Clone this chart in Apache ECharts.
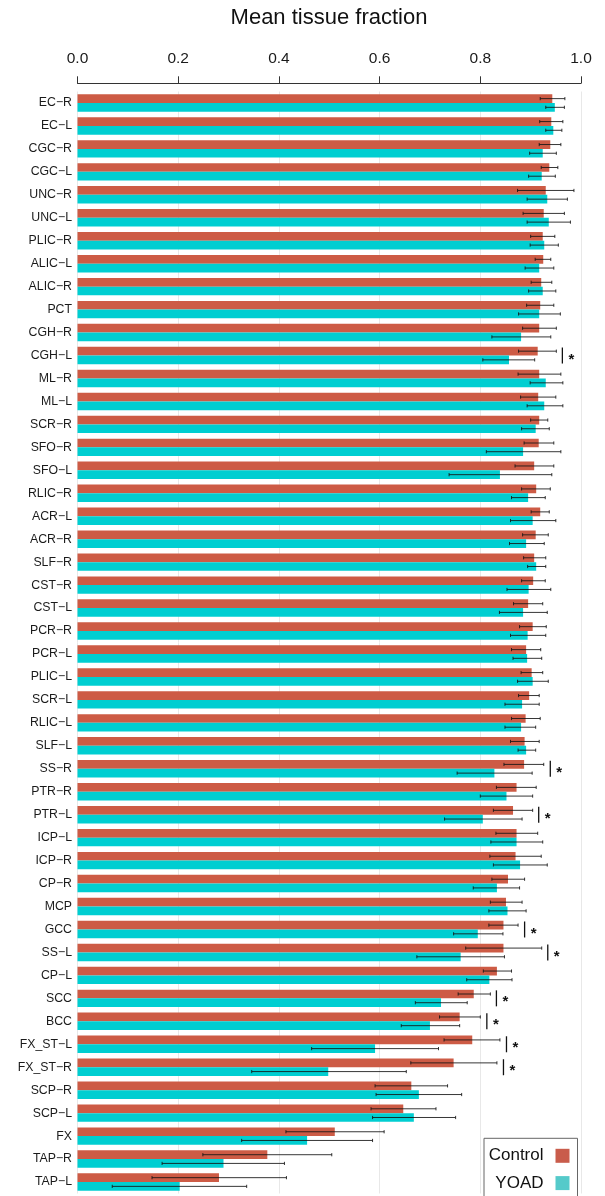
<!DOCTYPE html>
<html><head><meta charset="utf-8">
<script src="https://cdn.jsdelivr.net/npm/echarts@6/dist/echarts.min.js"></script>
<style>html,body{margin:0;padding:0;background:#fff}#c{width:605px;height:1196px}</style>
</head><body><div id="c"></div>
<script>
const categories = ['EC−R','EC−L','CGC−R','CGC−L','UNC−R','UNC−L','PLIC−R','ALIC−L','ALIC−R','PCT','CGH−R','CGH−L','ML−R','ML−L','SCR−R','SFO−R','SFO−L','RLIC−R','ACR−L','ACR−R','SLF−R','CST−R','CST−L','PCR−R','PCR−L','PLIC−L','SCR−L','RLIC−L','SLF−L','SS−R','PTR−R','PTR−L','ICP−L','ICP−R','CP−R','MCP','GCC','SS−L','CP−L','SCC','BCC','FX_ST−L','FX_ST−R','SCP−R','SCP−L','FX','TAP−R','TAP−L'];
const controlMean = [0.943,0.941,0.939,0.937,0.930,0.926,0.924,0.925,0.921,0.919,0.917,0.914,0.917,0.915,0.917,0.916,0.907,0.911,0.919,0.910,0.907,0.905,0.895,0.904,0.891,0.902,0.897,0.890,0.888,0.887,0.872,0.865,0.872,0.870,0.855,0.851,0.846,0.846,0.833,0.787,0.759,0.784,0.747,0.663,0.647,0.511,0.377,0.281];
const controlLo = [0.919,0.918,0.917,0.921,0.874,0.885,0.900,0.909,0.901,0.892,0.884,0.876,0.875,0.880,0.900,0.887,0.869,0.882,0.901,0.884,0.886,0.882,0.866,0.878,0.862,0.881,0.876,0.862,0.860,0.847,0.832,0.826,0.831,0.819,0.823,0.820,0.817,0.771,0.806,0.756,0.719,0.728,0.662,0.591,0.583,0.414,0.249,0.148];
const controlHi = [0.968,0.964,0.960,0.954,0.986,0.967,0.948,0.940,0.942,0.946,0.951,0.951,0.960,0.950,0.934,0.946,0.946,0.939,0.937,0.935,0.930,0.929,0.924,0.931,0.920,0.924,0.917,0.919,0.917,0.926,0.911,0.904,0.914,0.921,0.888,0.883,0.875,0.922,0.862,0.820,0.800,0.839,0.833,0.735,0.712,0.609,0.505,0.415];
const yoadMean = [0.948,0.945,0.924,0.922,0.933,0.936,0.927,0.917,0.924,0.917,0.881,0.857,0.930,0.927,0.910,0.885,0.839,0.895,0.904,0.891,0.911,0.896,0.885,0.894,0.893,0.904,0.883,0.881,0.891,0.828,0.852,0.805,0.872,0.879,0.833,0.854,0.795,0.761,0.818,0.722,0.700,0.591,0.498,0.678,0.668,0.456,0.290,0.203];
const yoadLo = [0.930,0.930,0.898,0.896,0.893,0.893,0.899,0.889,0.896,0.876,0.823,0.805,0.899,0.893,0.882,0.812,0.738,0.862,0.860,0.858,0.894,0.853,0.838,0.860,0.865,0.874,0.849,0.849,0.875,0.754,0.800,0.729,0.821,0.826,0.786,0.817,0.747,0.674,0.773,0.671,0.643,0.465,0.346,0.593,0.586,0.326,0.168,0.069];
const yoadHi = [0.967,0.962,0.951,0.949,0.973,0.979,0.955,0.946,0.950,0.959,0.940,0.908,0.964,0.964,0.937,0.960,0.942,0.929,0.950,0.927,0.930,0.940,0.933,0.930,0.922,0.935,0.917,0.910,0.910,0.903,0.904,0.883,0.924,0.933,0.878,0.891,0.845,0.848,0.863,0.774,0.759,0.717,0.653,0.763,0.751,0.586,0.411,0.336];
const sigCategories = ['CGH−L','SS−R','PTR−L','GCC','SS−L','SCC','BCC','FX_ST−L','FX_ST−R'];
const sigX = [0.963,0.939,0.916,0.888,0.934,0.832,0.813,0.852,0.846];
const seriesNames = ['Control','YOAD'];
const xTickStep = 0.2;

const FONT = '"Liberation Sans", Arial, Helvetica, sans-serif';
const BAR_W = 8.7;
const RED = '#CD5B45', CYAN = '#00CED1';
const ERR = 'rgba(20,20,20,0.85)';

function errRender(sign){
  return function(params, api){
    const i = api.value(2);
    const a = api.coord([api.value(0), i]);
    const b = api.coord([api.value(1), i]);
    const y = a[1] + sign * BAR_W / 2;
    const cap = 1.6;
    const st = {stroke: ERR, lineWidth: 1};
    return {type:'group', children:[
      {type:'line', shape:{x1:a[0], y1:y, x2:b[0], y2:y}, style:st},
      {type:'line', shape:{x1:a[0], y1:y-cap, x2:a[0], y2:y+cap}, style:st},
      {type:'line', shape:{x1:b[0], y1:y-cap, x2:b[0], y2:y+cap}, style:st}
    ]};
  };
}
function sigRender(params, api){
  const p = api.coord([api.value(0), api.value(1)]);
  return {type:'group', children:[
    {type:'line', shape:{x1:p[0], y1:p[1]-8, x2:p[0], y2:p[1]+8}, style:{stroke:'#111', lineWidth:1.3}},
    {type:'text', x:p[0]+9, y:p[1]+4, style:{text:'*', fontSize:15, fontWeight:'bold', fontFamily:FONT, fill:'#111', align:'center', verticalAlign:'middle'}}
  ]};
}

const chart = echarts.init(document.getElementById('c'), null, {renderer:'canvas'});
chart.setOption({
  animation: false,
  backgroundColor: '#fff',
  title: {text:'Mean tissue fraction', left:329, top:7, padding:0, textAlign:'center',
    textStyle:{fontFamily:FONT, fontSize:22, fontWeight:'normal', color:'#111'}},
  grid: {left:77.5, right:24, top:91.5, height:1102},
  xAxis: {type:'value', position:'top', min:0, max:1, interval:xTickStep, offset:8.2,
    axisLine:{show:true, lineStyle:{color:'#333', width:1}},
    axisTick:{show:true, length:7, lineStyle:{color:'#333', width:1}},
    axisLabel:{fontFamily:FONT, fontSize:15.5, color:'#1a1a1a', margin:17, formatter:v=>v.toFixed(1)},
    splitLine:{show:true, lineStyle:{color:'#e8e8e8', width:1}}},
  yAxis: {type:'category', data:categories, inverse:true,
    axisLine:{show:false}, axisTick:{show:false}, splitLine:{show:false},
    axisLabel:{fontFamily:FONT, fontSize:12.3, color:'#1a1a1a', margin:5.5}},
  legend: {data:[{name:seriesNames[0], itemStyle:{color:'#C95C4B'}}, {name:seriesNames[1], itemStyle:{color:'#55CACA'}}],
    orient:'vertical', left:484, top:1138.3, width:100, height:90, align:'right', icon:'rect',
    itemWidth:14, itemHeight:14, itemGap:10.3, padding:[9,8,10,4.7],
    borderColor:'#666', borderWidth:1, backgroundColor:'#fff', selectedMode:false,
    textStyle:{fontFamily:FONT, fontSize:17, color:'#111', width:56, align:'right', padding:[0,7,0,0]}},
  series: [
    {name:seriesNames[0], type:'bar', data:controlMean, barWidth:BAR_W, barGap:'0%', itemStyle:{color:RED}},
    {name:seriesNames[1], type:'bar', data:yoadMean, barWidth:BAR_W, barGap:'0%', itemStyle:{color:CYAN}},
    {type:'custom', name:'errC', z:5, renderItem:errRender(-1), encode:{x:[0,1], y:2},
      data:categories.map((c,i)=>[controlLo[i], controlHi[i], i])},
    {type:'custom', name:'errY', z:5, renderItem:errRender(1), encode:{x:[0,1], y:2},
      data:categories.map((c,i)=>[yoadLo[i], yoadHi[i], i])},
    {type:'custom', name:'sig', z:5, renderItem:sigRender, encode:{x:0, y:1},
      data:sigCategories.map((c,k)=>[sigX[k], categories.indexOf(c)])}
  ]
});
</script>
</body></html>
